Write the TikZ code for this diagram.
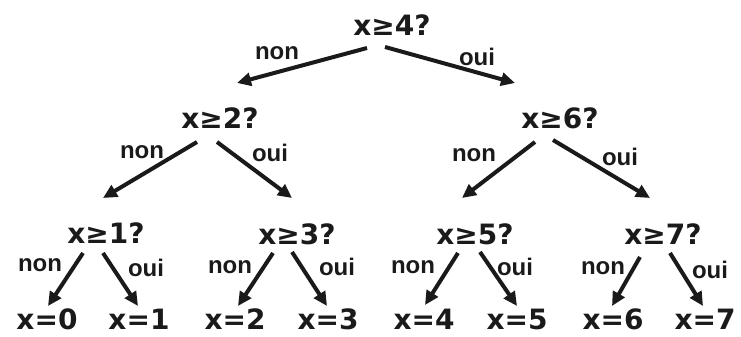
\documentclass[tikz,border=0pt]{standalone}
\usepackage{fontspec}
\setmainfont{Liberation Sans}
\newfontfamily\treefont{DejaVu Sans}
\usepackage{tikz}
\usetikzlibrary{arrows.meta,calc}
\definecolor{ink}{HTML}{1A1A1A}

\begin{document}
\begin{tikzpicture}[x=1pt,y=1pt,
    test/.style={font=\treefont\bfseries\fontsize{28}{30}\selectfont,inner sep=0pt,color=ink},
    ans/.style={font=\bfseries\fontsize{24}{26}\selectfont,inner sep=0pt,color=ink},
    arr/.style={-{Triangle[length=14pt,width=13pt]},line width=4pt,color=ink}]
  \def\branch#1#2#3#4{%
    \draw[arr] ($(#1)+(#2)$) -- ($(#3)+(#4)$);}
  \useasboundingbox (0,0) rectangle (741,337);

  % questions
  \node[test] (r) at (392,312) {x≥4?};
  \node[test] (a) at (220,219) {x≥2?};
  \node[test] (b) at (560,219) {x≥6?};
  \node[test] (c) at (106,104) {x≥1?};
  \node[test] (d) at (297,103) {x≥3?};
  \node[test] (e) at (475,103) {x≥5?};
  \node[test] (f) at (663,103) {x≥7?};

  % answers
  \foreach \n/\x in {0/47,1/139,2/235,3/328,4/424,5/517,6/613,7/705}{
    \node[test] (l\n) at (\x,18) {x=\n};}

  % branches
  \branch{r}{-25,-23}{a}{17,35}
  \branch{r}{-7,-22}{b}{-45,35}
  \branch{a}{-23,-24}{c}{-3,35}
  \branch{a}{-3,-24}{d}{-5,36}
  \branch{b}{-25,-24}{e}{-13,36}
  \branch{b}{-7,-22}{f}{-13,36}
  \branch{c}{-23,-20}{l0}{1,13}
  \branch{c}{-3,-20}{l1}{-1,13}
  \branch{d}{-24,-19}{l2}{3,13}
  \branch{d}{-5,-18}{l3}{-1,13}
  \branch{e}{-17,-19}{l4}{1,14}
  \branch{e}{5,-18}{l5}{0,13}
  \branch{f}{-23,-23}{l6}{-1,13}
  \branch{f}{7,-19}{l7}{-2,13}

  % labels
  \foreach \x/\y in {277/284,142/185,474/182,40/72,230/70,413/70,603/69}{
    \node[ans] at (\x,\y) {non};}
  \foreach \x/\y in {477/280,270/184,620/180,146/69,337/70,515/70,710/67}{
    \node[ans] at (\x,\y) {oui};}
\end{tikzpicture}
\end{document}
